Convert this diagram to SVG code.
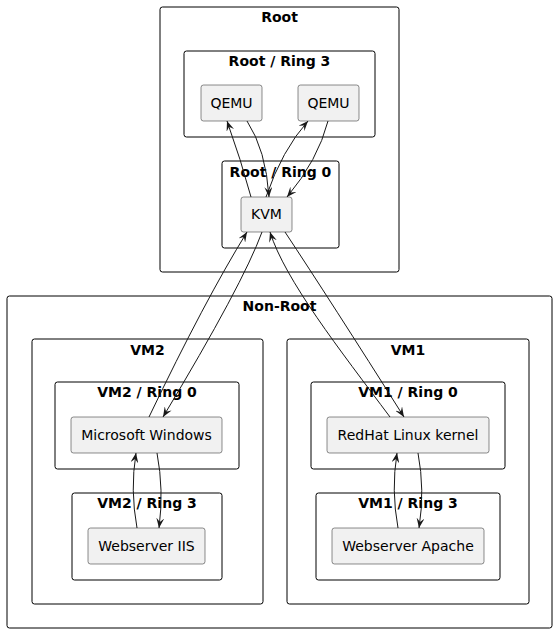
<svg xmlns="http://www.w3.org/2000/svg" width="558" height="633" viewBox="0 0 558 633">
<style>
.cont{fill:none;stroke:#000;stroke-width:1}
.node{fill:#F1F1F1;stroke:#181818;stroke-width:0.5}
.title{font-family:"DejaVu Sans",sans-serif;font-size:14px;font-weight:bold;fill:#000;text-anchor:middle}
.lbl{font-family:"DejaVu Sans",sans-serif;font-size:14px;fill:#000;text-anchor:middle}
.edge{fill:none;stroke:#181818;stroke-width:1;marker-end:url(#ah)}
</style>
<defs>
<marker id="ah" viewBox="0 0 10 8" refX="10" refY="4" markerWidth="10" markerHeight="8" markerUnits="userSpaceOnUse" orient="auto">
<path d="M0,0 L10,4 L0,8 L4,4 Z" fill="#181818"/>
</marker>
</defs>
<g id="root">
<rect class="cont" x="160" y="7" width="239" height="265" rx="2.5"/>
<text class="title" x="279.5" y="22">Root</text>
</g>
<g id="root-ring3">
<rect class="cont" x="184" y="51" width="191" height="86" rx="2.5"/>
<text class="title" x="279.5" y="66">Root / Ring 3</text>
</g>
<g id="qemu1">
<rect class="node" x="201" y="85" width="61" height="36" rx="2.5"/>
<text class="lbl" x="231.5" y="108">QEMU</text>
</g>
<g id="qemu2">
<rect class="node" x="298" y="85" width="61" height="36" rx="2.5"/>
<text class="lbl" x="328.5" y="108">QEMU</text>
</g>
<g id="root-ring0">
<rect class="cont" x="222" y="161" width="117" height="87" rx="2.5"/>
<text class="title" x="280.5" y="177">Root / Ring 0</text>
</g>
<g id="kvm">
<rect class="node" x="241" y="197" width="51" height="35" rx="2.5"/>
<text class="lbl" x="266.5" y="219">KVM</text>
</g>
<g id="nonroot">
<rect class="cont" x="7" y="296" width="545" height="332" rx="2.5"/>
<text class="title" x="279.5" y="311">Non-Root</text>
</g>
<g id="vm2">
<rect class="cont" x="32" y="339" width="231" height="265" rx="2.5"/>
<text class="title" x="147.5" y="355">VM2</text>
</g>
<g id="vm2-ring0">
<rect class="cont" x="55" y="382" width="184" height="87" rx="2.5"/>
<text class="title" x="147" y="397">VM2 / Ring 0</text>
</g>
<g id="windows">
<rect class="node" x="71" y="417" width="151" height="36" rx="2.5"/>
<text class="lbl" x="146.5" y="440">Microsoft Windows</text>
</g>
<g id="vm2-ring3">
<rect class="cont" x="72" y="493" width="150" height="87" rx="2.5"/>
<text class="title" x="147" y="508">VM2 / Ring 3</text>
</g>
<g id="iis">
<rect class="node" x="88" y="528" width="117" height="36" rx="2.5"/>
<text class="lbl" x="146.5" y="551">Webserver IIS</text>
</g>
<g id="vm1">
<rect class="cont" x="287" y="339" width="242" height="265" rx="2.5"/>
<text class="title" x="408" y="355">VM1</text>
</g>
<g id="vm1-ring0">
<rect class="cont" x="311" y="382" width="194" height="87" rx="2.5"/>
<text class="title" x="408" y="397">VM1 / Ring 0</text>
</g>
<g id="redhat">
<rect class="node" x="327" y="417" width="162" height="36" rx="2.5"/>
<text class="lbl" x="408" y="440">RedHat Linux kernel</text>
</g>
<g id="vm1-ring3">
<rect class="cont" x="316" y="493" width="184" height="87" rx="2.5"/>
<text class="title" x="408" y="508">VM1 / Ring 3</text>
</g>
<g id="apache">
<rect class="node" x="332" y="528" width="152" height="36" rx="2.5"/>
<text class="lbl" x="408" y="551">Webserver Apache</text>
</g>
<g id="connectors">
<path class="edge" d="M251,197 Q241,160 227,121"/>
<path class="edge" d="M247,121 Q266,150 269,197"/>
<path class="edge" d="M266,197 Q282,150 308,121"/>
<path class="edge" d="M328,121 Q318,160 287,197"/>
<path class="edge" d="M149,417 Q205,300 247,232"/>
<path class="edge" d="M262,232 Q243,284 163,417"/>
<path class="edge" d="M390,417 C340,350 285,280 270,232"/>
<path class="edge" d="M285,232 Q330,300 404,417"/>
<path class="edge" d="M137,528 Q130,490 136,453"/>
<path class="edge" d="M157,453 Q164,490 159,528"/>
<path class="edge" d="M398,528 Q391,490 397,453"/>
<path class="edge" d="M418,453 Q425,490 419,528"/>
</g>
</svg>
